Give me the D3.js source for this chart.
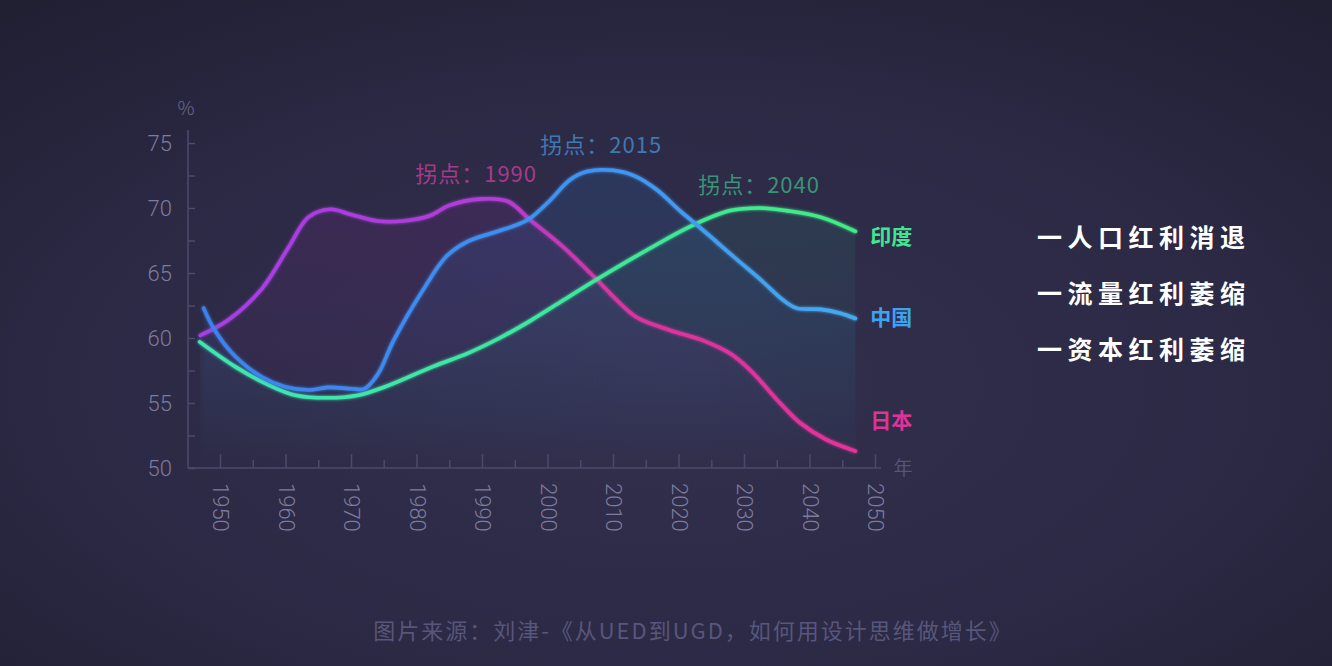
<!DOCTYPE html>
<html lang="zh-CN">
<head>
<meta charset="utf-8">
<script src="https://cdn.jsdelivr.net/npm/d3@7"></script>
<style>
  html, body { margin: 0; padding: 0; background: #28263d; }
  svg { display: block; font-family: "Noto Sans CJK SC", "Noto Sans", sans-serif; }
</style>
</head>
<body>
<svg id="chart" width="1332" height="666"></svg>
<script>
// 数据
const japanYears  = [1947, 1951.3, 1956.4, 1960.5, 1963.5, 1966.8, 1970, 1974, 1978, 1982, 1985, 1990, 1994, 1997.3, 2002.4, 2007.5, 2010.6, 2013.6, 2018.7, 2023.8, 2027.9, 2031, 2035.5, 2038.5, 2042.5, 2047];
const japanValues = [60.2, 61.4, 63.8, 67.0, 69.3, 69.9, 69.5, 69.0, 69.0, 69.4, 70.2, 70.7, 70.5, 69.1, 67.0, 64.5, 62.9, 61.6, 60.6, 59.8, 58.8, 57.5, 55.0, 53.5, 52.2, 51.3];

const chinaYears  = [1947.5, 1949.2, 1952.3, 1956.4, 1959.9, 1963.5, 1966.5, 1970.1, 1972.1, 1974.2, 1976.5, 1981, 1984.6, 1987.7, 1991.7, 1995.3, 1997.3, 2000.4, 2003.4, 2006, 2010, 2013.6, 2016.7, 2020.2, 2022.8, 2025.8, 2029, 2032.5, 2036, 2038, 2041.7, 2044.7, 2047];
const chinaValues = [62.3, 60.6, 58.6, 57.0, 56.25, 56.0, 56.2, 56.1, 56.1, 57.3, 59.8, 63.7, 66.3, 67.4, 68.1, 68.7, 69.2, 70.6, 72.15, 72.8, 72.9, 72.4, 71.4, 69.8, 68.7, 67.4, 66.0, 64.5, 62.9, 62.3, 62.2, 61.9, 61.5];

const indiaYears  = [1946.9, 1952.3, 1957.4, 1961.5, 1966.5, 1971.1, 1975.2, 1982.5, 1987.7, 1992.7, 1997.3, 2002.4, 2007.5, 2016, 2022.3, 2027.9, 2032.5, 2036.5, 2041.7, 2047];
const indiaValues = [59.7, 57.8, 56.4, 55.6, 55.4, 55.6, 56.25, 57.8, 58.8, 60.0, 61.3, 62.9, 64.5, 67.0, 68.7, 69.8, 70.0, 69.8, 69.3, 68.2];

const yearTicks  = [1950, 1960, 1970, 1980, 1990, 2000, 2010, 2020, 2030, 2040, 2050];
const valueTicks = [50, 55, 60, 65, 70, 75];

const annotTexts  = ["拐点：1990", "拐点：2015", "拐点：2040"];
const annotYears  = [1989.1, 2008.2, 2032.3];
const annotValues = [72.8, 75.0, 71.9];

const endLabels      = ["日本", "中国", "印度"];
const endLabelValues = [53.8, 61.7, 67.9];

const legendItems = ["一人口红利消退", "一流量红利萎缩", "一资本红利萎缩"];
const sourceText  = "图片来源：刘津-《从UED到UGD，如何用设计思维做增长》";

const svg = d3.select("#chart");
const W = 1332, H = 666;

// 比例尺
const x = d3.scaleLinear().domain([1950, 2050]).range([220, 875]);
const y = d3.scaleLinear().domain([50, 75]).range([468, 143]);

const defs = svg.append("defs");

// 背景
const bg = defs.append("radialGradient").attr("id", "bg")
  .attr("cx", "50%").attr("cy", "58%").attr("r", "75%");
bg.append("stop").attr("offset", "0%").attr("stop-color", "#32304e");
bg.append("stop").attr("offset", "60%").attr("stop-color", "#2b2944");
bg.append("stop").attr("offset", "100%").attr("stop-color", "#211f32");
svg.append("rect").attr("width", W).attr("height", H).attr("fill", "url(#bg)");

// 颜色渐变
function hGrad(id, stops) {
  const gr = defs.append("linearGradient").attr("id", id)
    .attr("gradientUnits", "userSpaceOnUse")
    .attr("x1", x(1947)).attr("x2", x(2047)).attr("y1", 0).attr("y2", 0);
  stops.forEach(s => gr.append("stop").attr("offset", s[0]).attr("stop-color", s[1]));
}
hGrad("gJapan", [[0, "#a53fe4"], [0.45, "#b23cd8"], [0.62, "#d9349f"], [1, "#e8329a"]]);
hGrad("gChina", [[0, "#3b82ee"], [0.6, "#3f94f0"], [1, "#45aaf0"]]);
hGrad("gIndia", [[0, "#3ee6b4"], [0.6, "#3de89a"], [1, "#40ec84"]]);

function vGrad(id, color, op) {
  const gr = defs.append("linearGradient").attr("id", id)
    .attr("gradientUnits", "userSpaceOnUse")
    .attr("x1", 0).attr("x2", 0).attr("y1", y(73)).attr("y2", y(50));
  gr.append("stop").attr("offset", 0).attr("stop-color", color).attr("stop-opacity", op);
  gr.append("stop").attr("offset", 1).attr("stop-color", color).attr("stop-opacity", 0.0);
}
vGrad("aJapan", "#7a2a90", 0.22);
vGrad("aChina", "#2a6ab8", 0.2);
vGrad("aIndia", "#2a9a80", 0.16);

const glow = defs.append("filter").attr("id", "glow")
  .attr("x", "-10%").attr("y", "-10%").attr("width", "120%").attr("height", "120%");
glow.append("feGaussianBlur").attr("stdDeviation", 1.6).attr("result", "b");
const mg = glow.append("feMerge");
mg.append("feMergeNode").attr("in", "b");
mg.append("feMergeNode").attr("in", "SourceGraphic");

const series = [
  { name: "japan", years: japanYears, values: japanValues, line: "url(#gJapan)", area: "url(#aJapan)" },
  { name: "india", years: indiaYears, values: indiaValues, line: "url(#gIndia)", area: "url(#aIndia)" },
  { name: "china", years: chinaYears, values: chinaValues, line: "url(#gChina)", area: "url(#aChina)" }
];
series.forEach(s => s.points = s.years.map((yr, i) => [yr, s.values[i]]));

const curve = d3.curveCatmullRom.alpha(0.5);
const area = d3.area().curve(curve)
  .x(d => x(d[0])).y0(y(50)).y1(d => y(d[1]));
const line = d3.line().curve(curve)
  .x(d => x(d[0])).y(d => y(d[1]));

// 面积
svg.append("g").selectAll("path").data(series).enter().append("path")
  .attr("d", d => area(d.points))
  .attr("fill", d => d.area);

// 坐标轴
const axisColor = "#4c4a6c";
const labelColor = "#7e7b9e";
const axX0 = 188;

const yAxis = svg.append("g").attr("transform", `translate(${axX0},0)`)
  .call(d3.axisLeft(y).tickValues(d3.range(50, 75.1, 2.5)).tickSize(-7).tickPadding(16)
    .tickFormat(d => valueTicks.includes(d) ? d : ""));
yAxis.select(".domain").remove();
yAxis.append("line").attr("x1", 0).attr("x2", 0).attr("y1", y(50)).attr("y2", 130)
  .attr("stroke", axisColor).attr("stroke-width", 1.5);
yAxis.selectAll(".tick line").attr("stroke", axisColor).attr("stroke-width", 1.5);
yAxis.selectAll(".tick text").attr("fill", labelColor)
  .style("font-size", "22px").style("font-family", "Roboto, 'Noto Sans', sans-serif").style("font-weight", 300);

const xMinor = svg.append("g").attr("transform", `translate(0,${y(50)})`)
  .call(d3.axisBottom(x).tickValues(d3.range(1955, 2050, 10)).tickSize(-8).tickFormat(""));
xMinor.select(".domain").remove();
xMinor.selectAll(".tick line").attr("stroke", axisColor).attr("stroke-width", 1.5);

const xAxis = svg.append("g").attr("transform", `translate(0,${y(50)})`)
  .call(d3.axisBottom(x).tickValues(yearTicks).tickSize(-14).tickPadding(0).tickFormat(d3.format("d")));
xAxis.select(".domain").remove();
xAxis.append("line").attr("x1", axX0).attr("x2", x(2050) + 6).attr("y1", 0).attr("y2", 0)
  .attr("stroke", axisColor).attr("stroke-width", 1.5);
xAxis.selectAll(".tick line").attr("stroke", axisColor).attr("stroke-width", 1.5);
xAxis.selectAll(".tick text")
  .attr("fill", labelColor)
  .attr("y", 0).attr("x", 0).attr("dy", null)
  .attr("text-anchor", "start").attr("dominant-baseline", "central")
  .attr("transform", "translate(0,15) rotate(90)")
  .style("font-size", "22px").style("font-family", "Roboto, 'Noto Sans', sans-serif").style("font-weight", 300);

svg.append("text").attr("x", 186).attr("y", 106).attr("text-anchor", "middle")
  .attr("dominant-baseline", "central").attr("fill", "#6d6a8e")
  .style("font-size", "19px").style("font-weight", 300).text("%");
svg.append("text").attr("x", 903).attr("y", 466).attr("text-anchor", "middle")
  .attr("dominant-baseline", "central").attr("fill", "#56547a")
  .style("font-size", "19px").text("年");

// 曲线
svg.append("g").selectAll("path").data(series).enter().append("path")
  .attr("d", d => line(d.points))
  .attr("fill", "none")
  .attr("stroke", d => d.line)
  .attr("stroke-width", 3.6)
  .attr("stroke-linecap", "round")
  .attr("filter", "url(#glow)");

// 拐点标注
const annotColors = ["#a63a88", "#3f78b2", "#379477"];
svg.append("g").selectAll("text").data(annotTexts).enter().append("text")
  .attr("x", (d, i) => x(annotYears[i]))
  .attr("y", (d, i) => y(annotValues[i]))
  .attr("text-anchor", "middle").attr("dominant-baseline", "central")
  .attr("fill", (d, i) => annotColors[i])
  .style("font-size", "22px").style("letter-spacing", "1px")
  .text(d => d);

// 国家标签
const endColors = ["#e0339a", "#3ea3ee", "#3fe890"];
svg.append("g").selectAll("text").data(endLabels).enter().append("text")
  .attr("x", x(2047) + 15)
  .attr("y", (d, i) => y(endLabelValues[i]))
  .attr("dominant-baseline", "central")
  .attr("fill", (d, i) => endColors[i])
  .style("font-size", "21px").style("font-weight", 700)
  .text(d => d);

// 右侧说明
svg.append("g").selectAll("text").data(legendItems).enter().append("text")
  .attr("x", 1037)
  .attr("y", (d, i) => 236 + i * 56)
  .attr("dominant-baseline", "central")
  .attr("fill", "#ffffff")
  .style("font-size", "25px").style("font-weight", 700).style("letter-spacing", "5.5px")
  .text(d => d);

// 来源
svg.append("text").attr("x", 693).attr("y", 629)
  .attr("text-anchor", "middle").attr("dominant-baseline", "central")
  .attr("fill", "#58567c")
  .style("font-size", "22px").style("letter-spacing", "2px")
  .text(sourceText);
</script>
</body>
</html>
